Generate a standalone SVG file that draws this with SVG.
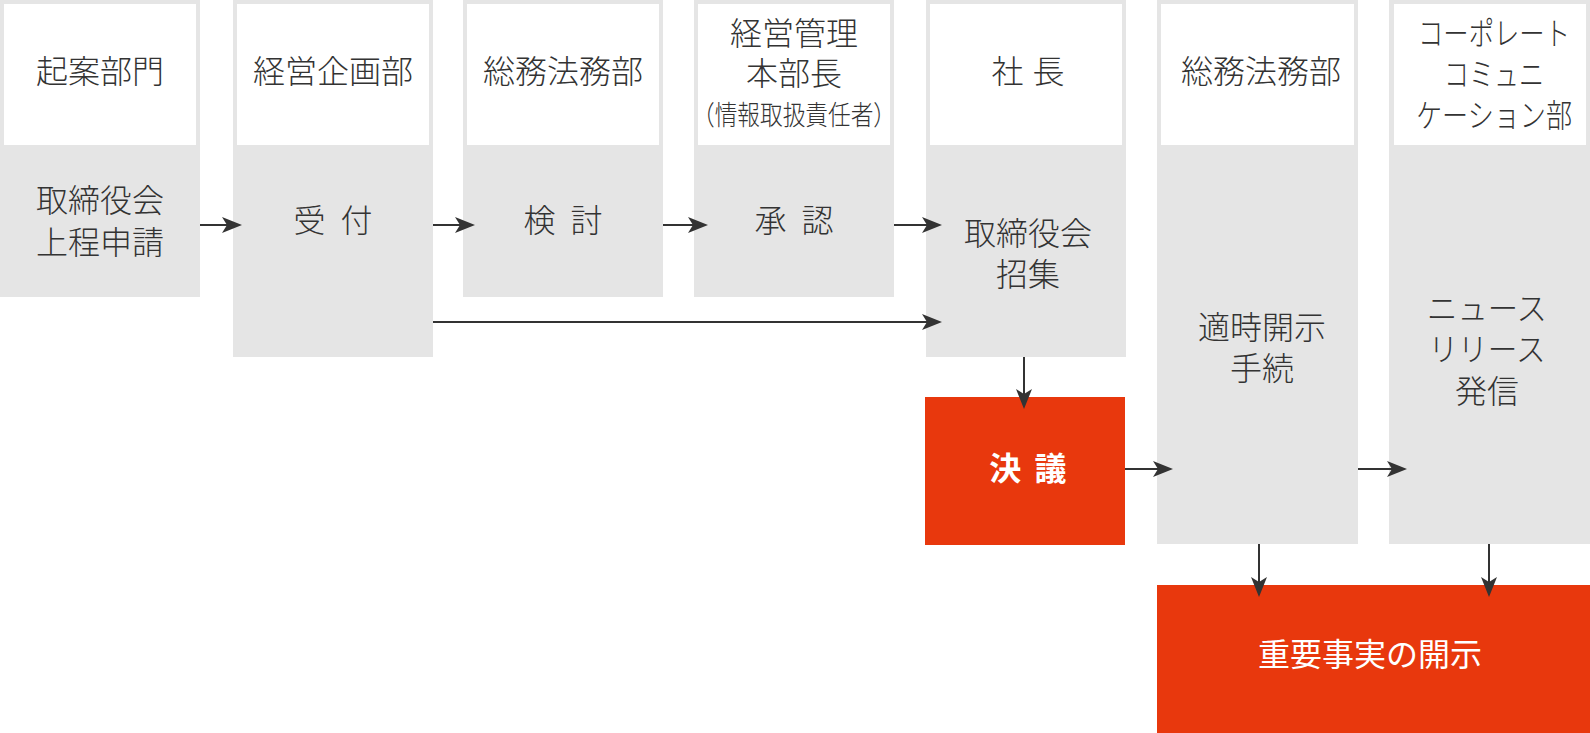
<svg xmlns="http://www.w3.org/2000/svg" width="1590" height="733" viewBox="0 0 1590 733">
<style>
.col{fill:#e5e5e5}
.hd{fill:#ffffff}
.t{font-family:"Noto Sans CJK JP","Noto Sans",sans-serif;font-size:32px;font-weight:300;fill:#333333;text-anchor:middle}
.s{font-size:27px}
.w{fill:#ffffff}
.b{font-weight:bold}
.m{font-weight:400}
.red{fill:#e8380d}
.ln{stroke:#333333;stroke-width:2;fill:none;marker-end:url(#ah)}
</style>
<defs>
<marker id="ah" markerUnits="userSpaceOnUse" markerWidth="20" markerHeight="16" refX="15" refY="8" orient="auto">
<path d="M0,0 L20,8 L0,16 L5,8 Z" fill="#333333"/>
</marker>
</defs>
<rect width="1590" height="733" fill="#ffffff"/>
<g id="col1">
<rect class="col" x="0" y="0" width="200" height="297"/>
<rect class="hd" x="4" y="4" width="192" height="141"/>
<text class="t" x="100" y="83">起案部門</text>
<text class="t" x="100" y="212">取締役会</text>
<text class="t" x="100" y="254">上程申請</text>
</g>
<g id="col2">
<rect class="col" x="233" y="0" width="200" height="357"/>
<rect class="hd" x="237" y="4" width="192" height="141"/>
<text class="t" x="333" y="83">経営企画部</text>
<text class="t" x="333" y="232" word-spacing="8">受 付</text>
</g>
<g id="col3">
<rect class="col" x="463" y="0" width="200" height="297"/>
<rect class="hd" x="467" y="4" width="192" height="141"/>
<text class="t" x="563" y="83">総務法務部</text>
<text class="t" x="563" y="232" word-spacing="8">検 討</text>
</g>
<g id="col4">
<rect class="col" x="694" y="0" width="200" height="297"/>
<rect class="hd" x="698" y="4" width="192" height="141"/>
<text class="t" x="794" y="45">経営管理</text>
<text class="t" x="794" y="85">本部長</text>
<text class="t s" x="794" y="125" textLength="204" lengthAdjust="spacingAndGlyphs">（情報取扱責任者）</text>
<text class="t" x="794" y="232" word-spacing="8">承 認</text>
</g>
<g id="col5">
<rect class="col" x="926" y="0" width="200" height="357"/>
<rect class="hd" x="930" y="4" width="192" height="141"/>
<text class="t" x="1028" y="83" word-spacing="2">社 長</text>
<text class="t" x="1028" y="245">取締役会</text>
<text class="t" x="1028" y="286">招集</text>
</g>
<g id="col6">
<rect class="col" x="1157" y="0" width="201" height="544"/>
<rect class="hd" x="1161" y="4" width="193" height="141"/>
<text class="t" x="1261" y="83">総務法務部</text>
<text class="t" x="1262" y="339">適時開示</text>
<text class="t" x="1262" y="380">手続</text>
</g>
<g id="col7">
<rect class="col" x="1389" y="0" width="201" height="544"/>
<rect class="hd" x="1394" y="4" width="192" height="141"/>
<text class="t" x="1494" y="45" textLength="152" lengthAdjust="spacingAndGlyphs">コーポレート</text>
<text class="t" x="1494" y="86" textLength="100" lengthAdjust="spacingAndGlyphs">コミュニ</text>
<text class="t" x="1494" y="127" textLength="156" lengthAdjust="spacingAndGlyphs">ケーション部</text>
<text class="t" x="1487" y="320" textLength="120" lengthAdjust="spacingAndGlyphs">ニュース</text>
<text class="t" x="1487" y="361" textLength="117" lengthAdjust="spacingAndGlyphs">リリース</text>
<text class="t" x="1487" y="403">発信</text>
</g>
<g id="resolution">
<rect class="red" x="925" y="397" width="200" height="148"/>
<text class="t w b" x="1028" y="480" word-spacing="6">決 議</text>
</g>
<g id="disclosure">
<rect class="red" x="1157" y="585" width="433" height="148"/>
<text class="t w m" x="1370" y="666">重要事実の開示</text>
</g>
<g id="connectors">
<line class="ln" x1="200" y1="225" x2="237" y2="225"/>
<line class="ln" x1="433" y1="225" x2="470" y2="225"/>
<line class="ln" x1="663" y1="225" x2="703" y2="225"/>
<line class="ln" x1="894" y1="225" x2="937" y2="225"/>
<line class="ln" x1="433" y1="322" x2="937" y2="322"/>
<line class="ln" x1="1024" y1="357" x2="1024" y2="404"/>
<line class="ln" x1="1125" y1="469" x2="1168" y2="469"/>
<line class="ln" x1="1358" y1="469" x2="1402" y2="469"/>
<line class="ln" x1="1259" y1="544" x2="1259" y2="592"/>
<line class="ln" x1="1489" y1="544" x2="1489" y2="592"/>
</g>
</svg>
